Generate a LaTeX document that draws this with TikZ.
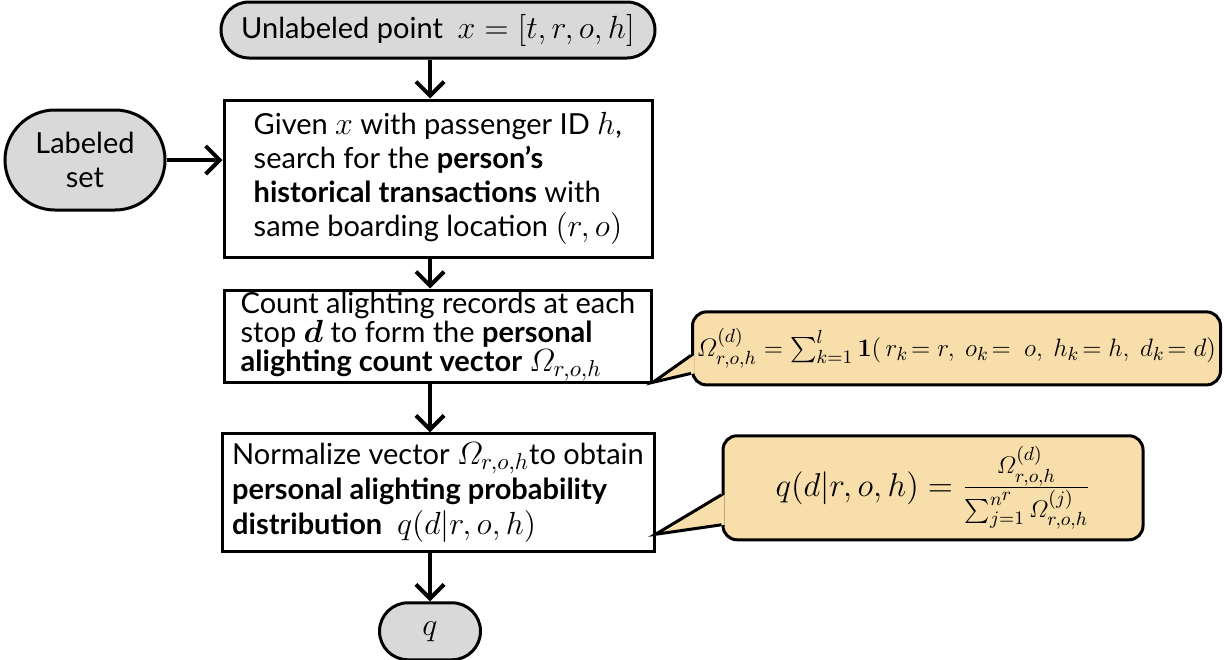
\RequirePackage{fix-cm}
\documentclass[tikz,border=0pt]{standalone}
\usepackage{amsmath,amssymb}
\usepackage[no-math]{fontspec}
\setmainfont{Lato}
\DeclareMathSizes{14.5}{16}{11.5}{9}
\DeclareMathSizes{12.5}{12.6}{9.5}{7.5}
\DeclareMathSizes{15}{16.5}{12}{9.5}
\usetikzlibrary{positioning,arrows.meta,shapes.misc}
\definecolor{cTerm}{RGB}{217,217,217}
\definecolor{cNote}{RGB}{248,222,170}
\definecolor{cEdge}{RGB}{0,0,0}
\tikzset{
  term/.style={
    rounded rectangle, draw=cEdge, fill=cTerm, line width=1.5pt,
    align=center, font=\fontsize{14.5}{17}\selectfont, inner sep=0pt,
  },
  proc/.style={
    rectangle, draw=cEdge, line width=1.5pt, align=left,
    font=\fontsize{14.5}{17.5}\selectfont, inner xsep=1pt, inner ysep=2pt,
  },
  note/.style={
    rectangle, rounded corners=7pt, draw=cEdge, fill=cNote, line width=1.5pt,
    font=\fontsize{12.5}{14}\selectfont, inner xsep=2pt, inner ysep=0pt,
  },
  arr/.style={-{Straight Barb[length=7pt,width=14pt]}, line width=2pt, draw=cEdge},
  ptr/.style={line width=1.5pt, draw=cEdge, line join=miter},
}

\begin{document}
\begin{tikzpicture}[node distance=5mm]
\useasboundingbox (0,0) rectangle (612.5pt,-329.5pt);

% ===== main column =====
\node[term, minimum width=217pt, minimum height=28pt] (point) at (219pt,-15pt)
  {Unlabeled point~ $x=[t,r,o,h]$};

\node[proc, below=19.5pt of point, minimum width=214pt, minimum height=78.5pt,
      font=\fontsize{14.5}{17}\selectfont] (search)
  {Given $x$ with passenger ID $h$,\\ search for the \textbf{person's}\\
   \textbf{historical transactions} with\\ same boarding location $(r,o)$};

\node[term, left=28pt of search, yshift=9.25pt, minimum width=80pt, minimum height=50pt] (labeled)
  {Labeled\\ set};

\node[proc, below=15pt of search, minimum width=213.5pt, minimum height=44.5pt,
      font=\fontsize{14.5}{14.5}\selectfont, inner ysep=1pt] (count)
  {Count alighting records at each\\ stop $\boldsymbol{d}$ to form the \textbf{personal}\\
   \textbf{alighting count vector} $\varOmega_{r,o,h}$};

\node[proc, below=24pt of count, minimum width=216pt, minimum height=59pt] (norm)
  {Normalize vector $\varOmega_{r,o,h}$to obtain\\ \textbf{personal alighting probability}\\
   \textbf{distribution}~ $q(d|r,o,h)$};

\node[term, below=24pt of norm, xshift=-4pt, minimum width=50.5pt, minimum height=28.5pt] (result)
  {$q$};

% ===== callouts =====
\node[note, right=19pt of count, yshift=-6pt, minimum width=264pt, minimum height=36.5pt] (omega)
  {$\varOmega^{(d)}_{r,o,h}=\sum_{k=1}^{l}\mathbf{1}(\,r_k\!=r,\ o_k\!=\ o,\ h_k\!=h,\ d_k\!=d)$};

\node[note, right=33pt of norm, yshift=2.5pt, minimum width=210pt, minimum height=52pt,
      font=\fontsize{15}{17}\selectfont] (prob)
  {$q(d|r,o,h)=\frac{\varOmega^{(d)}_{r,o,h}}{\sum_{j=1}^{n^r}\varOmega^{(j)}_{r,o,h}}$\hspace{20pt}};

\coordinate (tipA) at ([yshift=1pt]count.south east);
\coordinate (tipB) at ([yshift=9.5pt]norm.south east);
\fill[cNote] ([xshift=1.5pt,yshift=-3.5pt]omega.west) -- (tipA) -- ([xshift=1.5pt,yshift=-12.5pt]omega.west) -- cycle;
\draw[ptr] ([yshift=-3.5pt]omega.west) -- (tipA) -- ([yshift=-12.5pt]omega.west);
\fill[cNote] ([xshift=1.5pt,yshift=-3.5pt]prob.west) -- (tipB) -- ([xshift=1.5pt,yshift=-18.5pt]prob.west) -- cycle;
\draw[ptr] ([yshift=-3.5pt]prob.west) -- (tipB) -- ([yshift=-18.5pt]prob.west);

% ===== arrows =====
\draw[arr] (point.south -| result.north) -- (search.north -| result.north);
\draw[arr] (labeled.east) -- (labeled.east -| search.west);
\draw[arr] (search.south -| result.north) -- (count.north -| result.north);
\draw[arr] (count.south -| result.north) -- (norm.north -| result.north);
\draw[arr] (norm.south -| result.north) -- (result.north);

\end{tikzpicture}
\end{document}
